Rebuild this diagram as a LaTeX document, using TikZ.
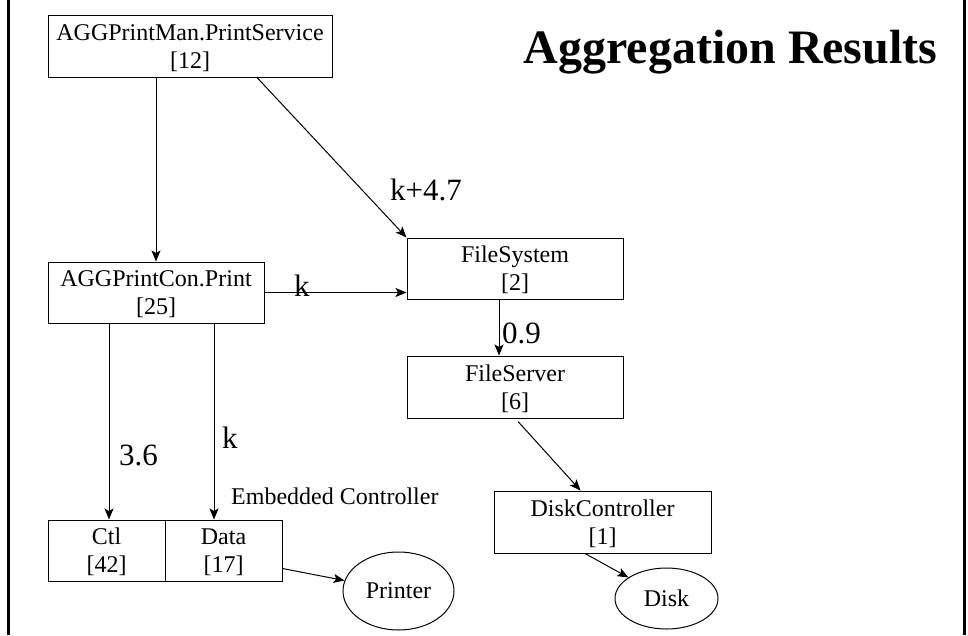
\documentclass[tikz,border=0pt]{standalone}
\usepackage{fontspec}
\setmainfont{Liberation Serif}
\usetikzlibrary{arrows.meta,calc,shapes.geometric}
\begin{document}
\begin{tikzpicture}[x=1pt,y=-1pt,
  box/.style={draw, line width=1pt, inner sep=0pt, align=center,
    font=\fontsize{24}{28}\selectfont, text height=50pt, text depth=6pt},
  oval/.style={draw, ellipse, line width=1pt, inner sep=0pt,
    font=\fontsize{24}{28}\selectfont},
  arr/.style={line width=1pt, -{Stealth[length=11pt,width=9pt,inset=2.5pt]}},
  lbl/.style={font=\fontsize{31}{36}\selectfont, inner sep=0pt, anchor=base west},
  note/.style={font=\fontsize{24}{28}\selectfont, inner sep=0pt, anchor=base west},
  frame/.style={line width=3pt}]
\useasboundingbox (0,0) rectangle (968,635);

% side rules of the slide
\draw[frame] (8.5,0) -- (8.5,635);
\draw[frame] (964,0) -- (964,635);

% title
\node[font=\fontsize{48}{56}\selectfont\bfseries, anchor=base, inner sep=0pt]
  (title) at (730.5,63) {Aggregation Results};

% components
\node[box, minimum width=284pt, minimum height=62pt] (ps)  at (190,46)    {AGGPrintMan.PrintService\\{}[12]};
\node[box, minimum width=216pt, minimum height=61pt] (pc)  at (156,292.5) {AGGPrintCon.Print\\{}[25]};
\node[box, minimum width=216pt, minimum height=61pt] (fs)  at (515,268.5) {FileSystem\\{}[2]};
\node[box, minimum width=216pt, minimum height=62pt] (fsv) at (515,387)   {FileServer\\{}[6]};
\node[box, minimum width=217pt, minimum height=62pt] (dc)  at (602.5,522) {DiskController\\{}[1]};
\node[box, minimum width=117pt, minimum height=61pt] (ctl)  at (106.5,550.5) {Ctl\\{}[42]};
\node[box, minimum width=117pt, minimum height=61pt] (data) at (223.5,550.5) {Data\\{}[17]};
\node[oval, minimum width=111pt, minimum height=78pt] (printer) at (398.5,591) {Printer};
\node[oval, minimum width=103pt, minimum height=61pt] (disk)    at (666.5,598.5) {Disk};

% attachment points
\coordinate (psdiag) at ($(ps.south west)!0.735!(ps.south east)$);
\coordinate (fsout)  at ($(fs.south)+(-16,0)$);
\coordinate (fsvout) at ($(fsv.south)+(3,3)$);
\coordinate (dcin)   at ($(dc.north)+(-22,0)$);
\coordinate (dcout)  at ($(dc.south)+(-17.5,0)$);
\coordinate (ctlin)  at ($(ctl.north)+(2.5,0)$);
\coordinate (datain) at ($(data.north)+(-9.5,0)$);
\coordinate (dataout) at ($(data.south east)+(0,-13)$);

% connectors
\draw[arr] (ps.south -| pc.north) -- (pc.north);
\draw[arr] (psdiag) -- (fs.north west);
\draw[arr] (pc.east) -- (pc.east -| fs.west);
\draw[arr] (fsout) -- (fsout |- fsv.north);
\draw[arr] (fsvout) -- (dcin);
\draw[arr] (dcout) -- (disk);
\draw[arr] (ctlin |- pc.south) -- (ctlin);
\draw[arr] (datain |- pc.south) -- (datain);
\draw[arr] (dataout) -- (printer);

% connector labels
\node[lbl] (lk1)  at (390,200) {k+4.7};
\node[lbl] (lk2)  at (294,296) {k};
\node[lbl] (l09)  at (502,343) {0.9};
\node[lbl] (l36)  at (119,465) {3.6};
\node[lbl] (lk3)  at (222,448) {k};
\node[note] (emb) at (231,504) {Embedded Controller};
\end{tikzpicture}
\end{document}
